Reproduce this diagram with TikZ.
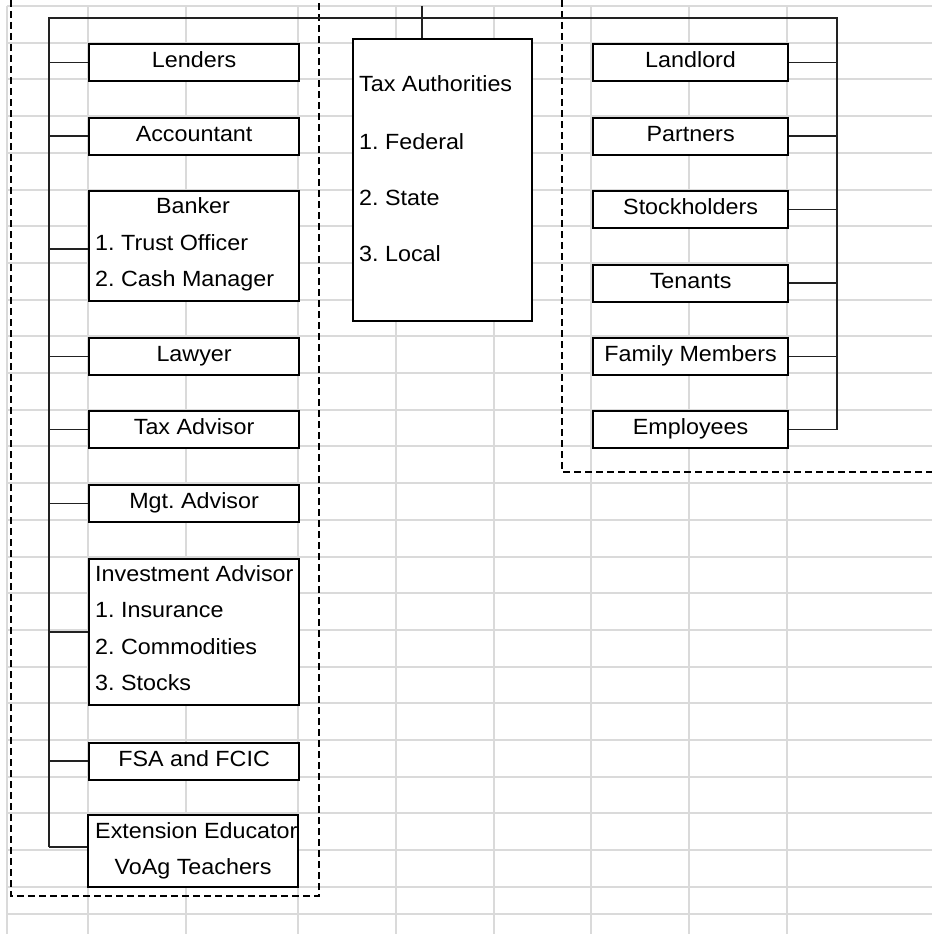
\documentclass[tikz,border=0pt]{standalone}
\usepackage{fontspec}
\setmainfont{Liberation Sans}[FakeStretch=1.06]
\definecolor{gridgray}{HTML}{DADADA}
\definecolor{conncol}{HTML}{222222}
\frenchspacing
\begin{document}
\frenchspacing
\begin{tikzpicture}[x=1pt,y=-1pt,
  every node/.style={font=\fontsize{22}{26}\selectfont\frenchspacing},
  gridline/.style={draw=gridgray, line width=2pt},
  box/.style={draw=black, line width=2.2pt, fill=white, inner sep=0pt, anchor=north west,
    text height=15pt, text depth=5pt},
  lbox/.style={box, minimum width=210pt, minimum height=37pt},
  rbox/.style={box, minimum width=195pt, minimum height=37pt},
  conn/.style={draw=conncol, line width=1.3pt},
  dashedbox/.style={draw=black, line width=2.5pt, dash pattern=on 7pt off 4pt},
  lbl/.style={inner sep=0pt, anchor=base west},
  clbl/.style={inner sep=0pt, anchor=base}]
\useasboundingbox (0,0) rectangle (932,934);
\fill[white] (0,0) rectangle (932,934);
% spreadsheet grid
\foreach \gy in {6,42.7,79.4,116,152.8,189.5,226,263,299.6,336,373,410,446,483,520,556.5,593,630,667,703,740,777,813,850,887,914}
  \draw[gridline] (7,\gy) -- (932,\gy);
\foreach \gx in {7,88,186,298,396,494,591,689,787}
  \draw[gridline] (\gx,6) -- (\gx,934);
% dashed groups
\draw[dashedbox] (11,0) -- (11,896) -- (319,896) -- (319,0);
\draw[dashedbox] (562,0) -- (562,472) -- (932,472);
% left boxes
\node[lbox] (lenders) at (88,43) {Lenders};
\node[lbox] (accountant) at (88,116.5) {Accountant};
\node[lbox, minimum height=110pt] (banker) at (88,190) {};
\node[lbox] (lawyer) at (88,337) {Lawyer};
\node[lbox] (taxadv) at (88,410) {Tax Advisor};
\node[lbox] (mgt) at (88,484) {Mgt. Advisor};
\node[lbox, minimum height=146pt] (invest) at (88,558) {};
\node[lbox] (fsa) at (88,741.5) {FSA and FCIC};
\node[lbox, minimum height=72pt, outer sep=0pt] (ext) at (88,815) {};
% right boxes
\node[rbox] (landlord) at (592,43) {Landlord};
\node[rbox] (partners) at (592,116.5) {Partners};
\node[rbox] (stock) at (592,190) {Stockholders};
\node[rbox] (tenants) at (592,263.5) {Tenants};
\node[rbox] (family) at (592,337) {Family Members};
\node[rbox] (employees) at (592,410) {Employees};
% tax authorities
\node[box, minimum width=179pt, minimum height=282pt] (tax) at (352,38) {};
% spine coordinates
\coordinate (ltop) at (49,18);
\coordinate (rtop) at (837,18);
\coordinate (extc) at ([yshift=4pt]ext.west);
\coordinate (bankc) at ([yshift=-3pt]banker.west);
\coordinate (lbot) at (extc -| ltop);
\coordinate (rbot) at (employees.east -| rtop);
\coordinate (taxtop) at (422,6);
% connectors
\draw[conn] (lbot) -- (ltop) -- (rtop) -- (rbot);
\draw[conn] (taxtop) -- (taxtop |- tax.north);
\foreach \n in {lenders,accountant,lawyer,taxadv,mgt,invest,fsa}
  \draw[conn] (\n.west) -- (\n.west -| ltop);
\draw[conn] (bankc) -- (bankc -| ltop);
\draw[conn] (extc) -- (lbot);
\foreach \n in {landlord,partners,stock,tenants,family,employees}
  \draw[conn] (\n.east) -- (\n.east -| rtop);
% multi-line labels
\node[clbl] (bankt) at (193,213.5) {Banker};
\node[lbl] (bank1) at (95,250.5) {1. Trust Officer};
\node[lbl] (bank2) at (95,286.5) {2. Cash Manager};
\node[lbl] (inv0) at (95,581) {Investment Advisor};
\node[lbl] (inv1) at (95,617.5) {1. Insurance};
\node[lbl] (inv2) at (95,654) {2. Commodities};
\node[lbl] (inv3) at (95,690.5) {3. Stocks};
\node[lbl] (ext1) at (95,838) {Extension Educator};
\node[clbl] (ext2) at (193,874) {VoAg Teachers};
\node[lbl] (tax0) at (359,91.5) {Tax Authorities};
\node[lbl] (tax1) at (359,149) {1. Federal};
\node[lbl] (tax2) at (359,205) {2. State};
\node[lbl] (tax3) at (359,261.5) {3. Local};
% border of the extension box over its overflowing text
\draw[line width=2.2pt] (ext.north west) rectangle (ext.south east);
\end{tikzpicture}
\end{document}
